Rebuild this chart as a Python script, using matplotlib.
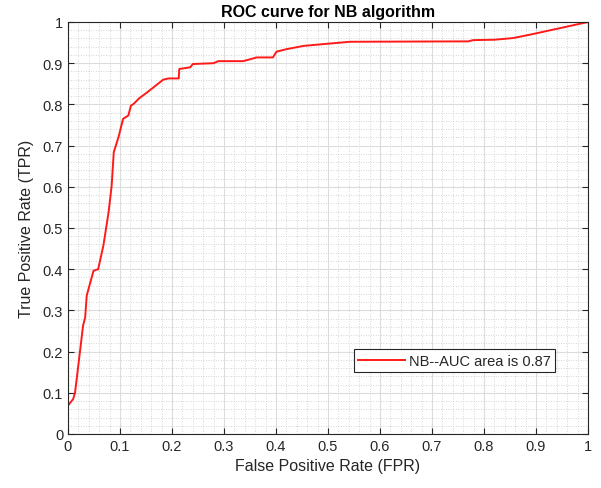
import matplotlib
matplotlib.use("Agg")
import matplotlib.pyplot as plt
import numpy as np
from matplotlib.ticker import MultipleLocator

plt.rcParams['font.family'] = ['Liberation Sans', 'DejaVu Sans']

fpr = [0.0, 0.0, 0.010, 0.0135, 0.029, 0.033, 0.036, 0.049, 0.058, 0.068, 0.078,
       0.084, 0.088, 0.095, 0.097, 0.106, 0.116, 0.121, 0.126, 0.137, 0.151,
       0.183, 0.193, 0.213, 0.214, 0.235, 0.240, 0.280, 0.289, 0.337, 0.363,
       0.394, 0.401, 0.420, 0.453, 0.497, 0.542, 0.770, 0.779, 0.820, 0.856,
       0.895, 1.0]
tpr = [0.0, 0.069, 0.085, 0.100, 0.263, 0.283, 0.336, 0.396, 0.400, 0.457, 0.538,
       0.603, 0.684, 0.712, 0.720, 0.765, 0.773, 0.797, 0.801, 0.815, 0.828,
       0.860, 0.863, 0.863, 0.886, 0.890, 0.898, 0.900, 0.905, 0.905, 0.914,
       0.914, 0.928, 0.934, 0.942, 0.947, 0.952, 0.953, 0.956, 0.957, 0.961,
       0.971, 1.0]

title = "ROC curve for NB algorithm"
xlabel = "False Positive Rate (FPR)"
ylabel = "True Positive Rate (TPR)"
legend_label = "NB--AUC area is 0.87"

fig = plt.figure(figsize=(6.01, 4.89), dpi=100)
ax = fig.add_axes([68/601, 54/489, 520/601, 412/489])

ax.plot(fpr, tpr, color='#ff1a1a', linewidth=1.4, label=legend_label)

ax.set_xlim(0, 1)
ax.set_ylim(0, 1)
ax.xaxis.set_major_locator(MultipleLocator(0.1))
ax.yaxis.set_major_locator(MultipleLocator(0.1))
ax.xaxis.set_minor_locator(MultipleLocator(0.02))
ax.yaxis.set_minor_locator(MultipleLocator(0.02))
ax.xaxis.set_major_formatter(matplotlib.ticker.FuncFormatter(lambda v, p: f"{v:g}"))
ax.yaxis.set_major_formatter(matplotlib.ticker.FuncFormatter(lambda v, p: f"{v:g}"))

ax.grid(which='major', color='#dcdcdc', linewidth=0.8, linestyle='-')
ax.grid(which='minor', color='#c8c8c8', linewidth=0.6, linestyle=(0, (1, 2)))
ax.set_axisbelow(True)

dark = '#262626'
ax.tick_params(which='major', direction='in', top=True, right=True, length=4,
               labelsize=10.5, colors=dark, width=0.8)
ax.tick_params(which='minor', direction='in', top=False, right=False, bottom=False,
               left=False, length=0)
for s in ax.spines.values():
    s.set_color(dark)
    s.set_linewidth(0.8)

ax.set_title(title, fontsize=11.5, fontweight='bold', color='black', pad=4)
ax.set_xlabel(xlabel, fontsize=11.5, color=dark, labelpad=4)
ax.set_ylabel(ylabel, fontsize=11.5, color=dark, labelpad=6)

leg = ax.legend(loc='lower right', bbox_to_anchor=(0.937, 0.15), fontsize=10.5,
                frameon=True, fancybox=False, edgecolor=dark, framealpha=1,
                handlelength=3.2, borderpad=0.3, handletextpad=0.3, borderaxespad=0)
leg.get_frame().set_linewidth(0.8)
for t in leg.get_texts():
    t.set_color(dark)

fig.savefig("out.png", dpi=100)
